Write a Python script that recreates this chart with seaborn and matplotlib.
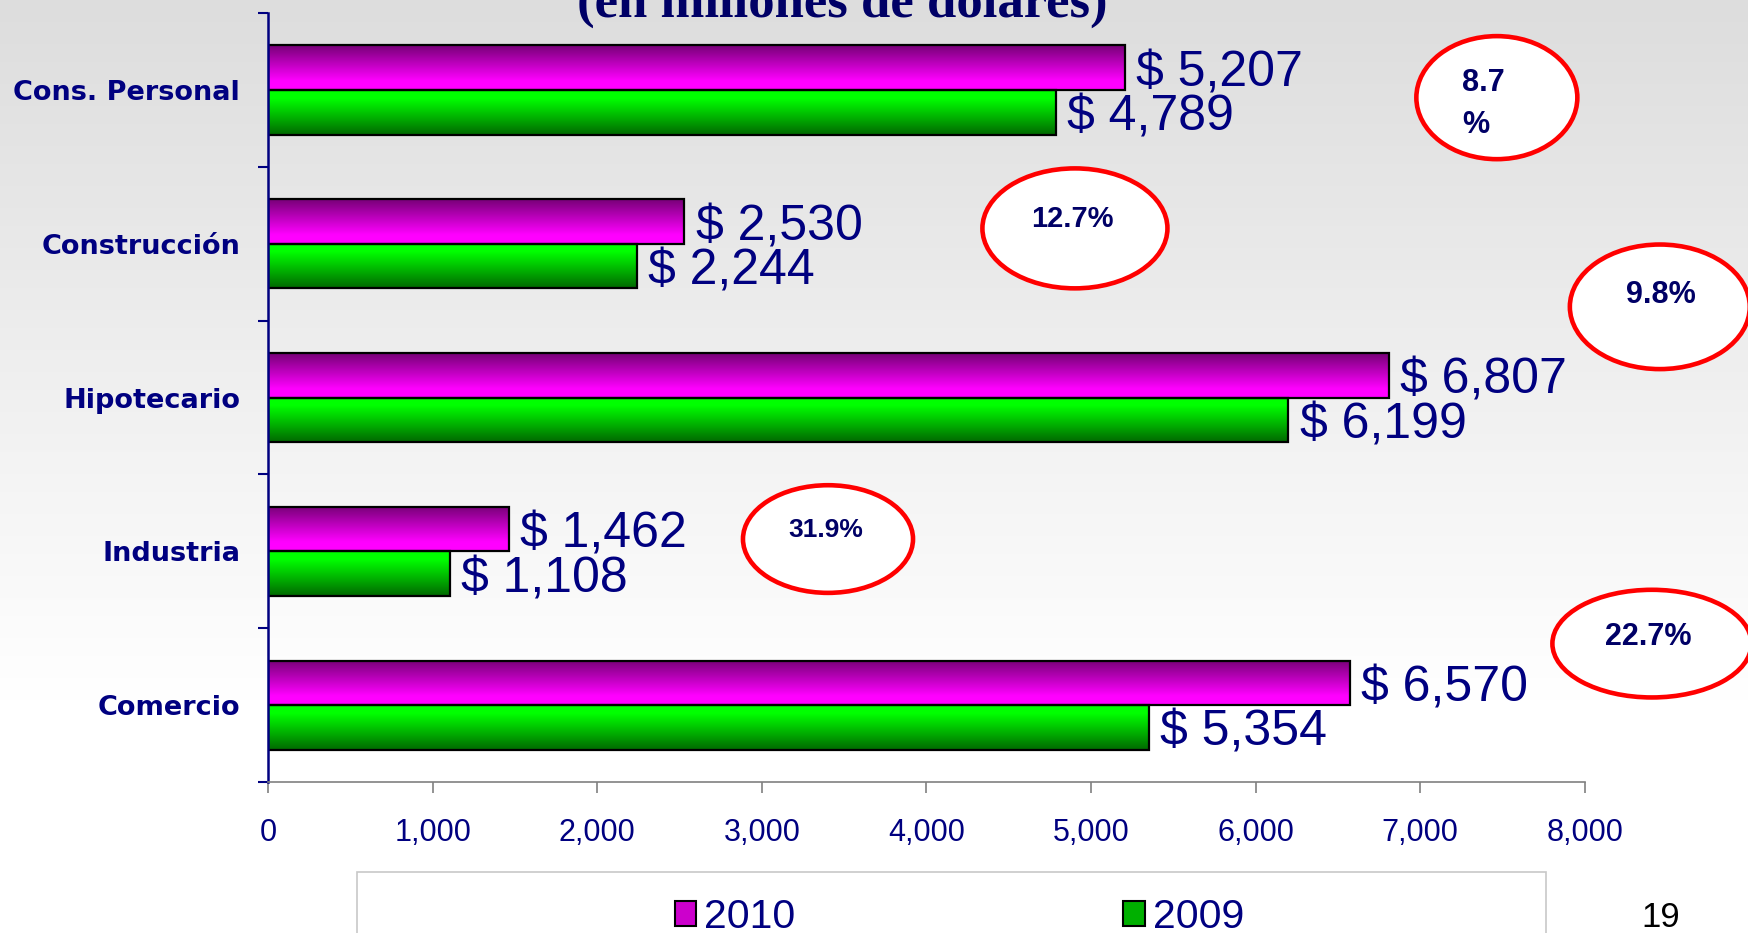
import matplotlib

matplotlib.use("Agg")
import matplotlib.pyplot as plt
import numpy as np
import pandas as pd
import seaborn as sns
from matplotlib.colors import LinearSegmentedColormap, to_rgb
from matplotlib.patches import Ellipse, Patch, Rectangle
from matplotlib.ticker import FuncFormatter

# ============================================================
# Datos (en millones de dolares)
# ============================================================
categorias = ["Cons. Personal", "Construcción", "Hipotecario", "Industria", "Comercio"]
montos_2010 = [5207, 2530, 6807, 1462, 6570]
montos_2009 = [4789, 2244, 6199, 1108, 5354]
crecimiento = ["8.7\n%", "12.7%", "9.8%", "31.9%", "22.7%"]
anios = ["2010", "2009"]
x_ticks = [0, 1000, 2000, 3000, 4000, 5000, 6000, 7000, 8000]

# posicion de las elipses (x en dolares, y en indice de categoria)
elipse_xy = [(7465, 0.05), (4902, 0.90), (8455, 1.41), (3402, 2.92), (8407, 3.60)]
elipse_wh = [(978, 0.80), (1124, 0.78), (1093, 0.81), (1033, 0.70), (1209, 0.70)]
texto_xy = [(7253, 0.09), (4884, 0.84), (8461, 1.33), (3390, 2.86), (8382, 3.56)]
texto_size = [22, 21, 22, 19, 22]

NAVY = "#000080"

df = pd.DataFrame({
    "categoria": categorias * 2,
    "monto": montos_2010 + montos_2009,
    "anio": [anios[0]] * len(categorias) + [anios[1]] * len(categorias),
})

sns.set_style("ticks")
plt.rcParams["font.family"] = ["Liberation Sans", "DejaVu Sans"]

fig = plt.figure(figsize=(17.48, 9.33), dpi=100)

# fondo degradado gris -> blanco
bg = fig.add_axes([0, 0, 1, 1], zorder=-10)
g = np.clip(np.linspace(0, 1, 256) / 0.75, 0, 1)
top, bottom = np.array(to_rgb("#dddddd")), np.array([1.0, 1.0, 1.0])
grad = (top[None, :] * (1 - g[:, None]) + bottom[None, :] * g[:, None])[:, None, :]
bg.imshow(grad, aspect="auto", extent=(0, 1, 0, 1), origin="upper")
bg.set_axis_off()

ax = fig.add_axes([0.1533, 0.1618, 0.7534, 0.8242])
ax.set_facecolor("none")

sns.barplot(
    data=df, y="categoria", x="monto", hue="anio", hue_order=anios,
    orient="h", width=0.58, palette=["#ff00ff", "#00e000"], saturation=1,
    edgecolor="black", linewidth=1.6, legend=False, ax=ax,
)

cmaps = [
    LinearSegmentedColormap.from_list("mag", [(0, "#780078"), (0.8, "#ff00ff"), (1, "#ff00ff")]),
    LinearSegmentedColormap.from_list("grn", [(0, "#00ff00"), (0.18, "#00ff00"), (1, "#006a00")]),
]
col = np.linspace(0, 1, 64)[:, None]
for cont, cmap, vals in zip(ax.containers, cmaps, [montos_2010, montos_2009]):
    for bar, v in zip(cont, vals):
        x0, y0 = bar.get_x(), bar.get_y()
        w, h = bar.get_width(), bar.get_height()
        im = ax.imshow(cmap(col), aspect="auto", extent=(x0, x0 + w, y0 + h, y0),
                       origin="upper", interpolation="bilinear", zorder=bar.get_zorder())
        im.set_clip_path(bar)
        bar.set_facecolor("none")
        bar.set_zorder(bar.get_zorder() + 0.5)
        ax.annotate(f"$ {v:,}", (x0 + w, y0 + h / 2), xytext=(8, -4),
                    textcoords="offset points", ha="left", va="center",
                    fontsize=36, color=NAVY, annotation_clip=False)

ax.set_xlim(0, 8000)
ax.set_ylim(4.5, -0.5)

# ejes
ax.set_xticks(x_ticks)
ax.xaxis.set_major_formatter(FuncFormatter(lambda v, _: f"{v:,.0f}"))
ax.tick_params(axis="x", length=8, width=1.2, color="#808080", labelsize=22,
               labelcolor=NAVY, pad=18)
ax.set_yticks(range(len(categorias)))
ax.set_yticklabels(categorias, fontweight="bold", family=["DejaVu Sans"])
ax.tick_params(axis="y", which="major", length=0, labelsize=19.5, labelcolor=NAVY, pad=20)
ax.set_yticks(np.arange(-0.5, len(categorias), 1), minor=True)
ax.tick_params(axis="y", which="minor", length=7, width=1.5, color=NAVY)
ax.set_xlabel("")
ax.set_ylabel("")
for s in ["top", "right"]:
    ax.spines[s].set_visible(False)
ax.spines["left"].set_color(NAVY)
ax.spines["left"].set_linewidth(1.8)
ax.spines["bottom"].set_color("#808080")
ax.spines["bottom"].set_linewidth(1.2)

# elipses de crecimiento
for (ex, ey), (ew, eh), (tx, ty), txt, fs in zip(elipse_xy, elipse_wh, texto_xy, crecimiento, texto_size):
    ax.add_patch(Ellipse((ex, ey), ew, eh, facecolor="white", edgecolor="#ff0000",
                         linewidth=3.3, clip_on=False, zorder=5))
    ha = "left" if "\n" in txt else "center"
    ax.text(tx, ty, txt, ha=ha, va="center", fontsize=fs, fontweight="bold",
            color="#000066", zorder=6, clip_on=False, linespacing=1.5)

# titulo (cortado en el borde superior)
fig.text(0.482, 0.9818, "(en millones de dólares)", ha="center", va="baseline",
         fontsize=38, fontweight="bold", color="#000066", family=["Liberation Serif", "DejaVu Serif"])

# leyenda
fig.patches.append(Rectangle((357 / 1748, -0.05), 1189 / 1748, 0.1154, transform=fig.transFigure,
                             facecolor="white", edgecolor="#c8c8c8", linewidth=1.2, zorder=1))
handles = [Patch(facecolor="#cc00cc", edgecolor="black", linewidth=1.5),
           Patch(facecolor="#00b000", edgecolor="black", linewidth=1.5)]
leg = fig.legend(handles, anios, loc="center", bbox_to_anchor=(0.549, 0.0170), ncol=2,
                 frameon=False, fontsize=29.5, handlelength=0.53, handleheight=0.55,
                 handletextpad=0.2, columnspacing=8.0, labelcolor=NAVY)
leg.set_zorder(2)

fig.text(0.950, 0.0165, "19", ha="center", va="center", fontsize=25, color="black")

fig.savefig("out.png", dpi=100)
plt.close(fig)
